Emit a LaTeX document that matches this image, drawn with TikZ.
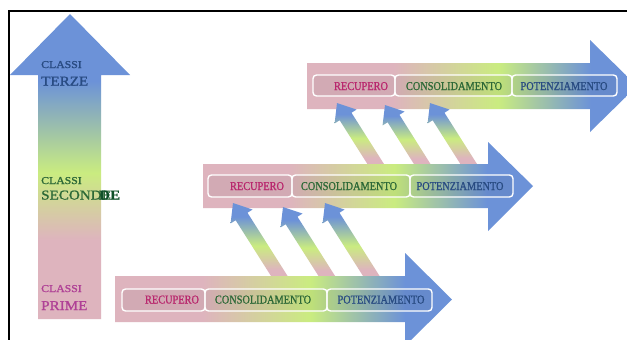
\documentclass[tikz,border=0pt]{standalone}
\usepackage{fontspec}
\setmainfont{Liberation Serif}
\newfontfamily\widefont[FakeStretch=1.12,FakeBold=1.2]{Liberation Serif}
\newfontfamily\narrowfont[FakeStretch=0.86,FakeBold=0.9]{Liberation Serif}
\usetikzlibrary{calc}
\definecolor{apink}{RGB}{222,180,190}
\definecolor{agreen}{RGB}{202,236,128}
\definecolor{ablue}{RGB}{108,146,216}
\definecolor{tblue}{RGB}{40,75,130}
\definecolor{tgreen}{RGB}{45,105,55}
\definecolor{tdgreen}{RGB}{15,80,40}
\definecolor{tmag}{RGB}{175,65,150}
\definecolor{rmag}{RGB}{185,40,110}
\pgfdeclarehorizontalshading{hgrad}{100bp}{color(0bp)=(apink); color(38bp)=(apink); color(54bp)=(agreen); color(68bp)=(ablue); color(100bp)=(ablue)}
\pgfdeclareverticalshading{vgrad}{100bp}{color(0bp)=(apink); color(38bp)=(apink); color(49bp)=(agreen); color(64bp)=(ablue); color(100bp)=(ablue)}
\pgfdeclareverticalshading{dgrad}{100bp}{color(0bp)=(apink); color(36bp)=(apink); color(50bp)=(agreen); color(67bp)=(ablue); color(100bp)=(ablue)}
\tikzset{
  harrow/.style={shading=hgrad},
  varrow/.style={shading=vgrad},
  darrow/.style={shading=dgrad},
  seg/.style={draw=white, line width=1.4pt, rounded corners=3.5pt, fill=black, fill opacity=0.05},
  seglabel/.style={font=\narrowfont\fontsize{12}{12}\selectfont, anchor=base, inner sep=0pt},
  sidesmall/.style={font=\widefont\fontsize{10.5}{10.5}\selectfont, anchor=base west, inner sep=0pt},
  sidebig/.style={font=\widefont\fontsize{13.5}{13.5}\selectfont, anchor=base west, inner sep=0pt},
  frameline/.style={line width=1.3pt, black}
}
% diagonal block arrow from tail #1 to tip #2
\newcommand\diagarr[2]{%
  \coordinate (hb) at ($(#2)!16pt!(#1)$);
  \shade[darrow] ($(#1)!7pt!90:(#2)$) -- ($(hb)!7pt!90:(#2)$) -- ($(hb)!13pt!90:(#2)$) -- (#2)
    -- ($(hb)!13pt!-90:(#2)$) -- ($(hb)!7pt!-90:(#2)$) -- ($(#1)!7pt!-90:(#2)$) -- cycle;
}
\begin{document}
\begin{tikzpicture}[x=1pt,y=-1pt]
\useasboundingbox (0,0) rectangle (627,340);
\clip (0,0) rectangle (627,340);
\fill[white] (0,0) rectangle (627,340);

% vertical arrow
\shade[varrow] (38,319) -- (38,75) -- (10,75) -- (70,14) -- (130,75) -- (101,75) -- (101,319) -- cycle;
\node[sidesmall, text=tblue] (c3) at (41,68) {CLASSI};
\node[sidebig, text=tblue] (t3) at (41,85.5) {TERZE};
\node[sidesmall, text=tgreen] (c2) at (41,184) {CLASSI};
\node[sidebig, text=tgreen] (t2) at (41,199.5) {\makebox[0pt][l]{SECONDE}\hspace{58pt}\textcolor{tdgreen}{\bfseries DE}};
\node[sidesmall, text=tmag] (c1) at (41,292) {CLASSI};
\node[sidebig, text=tmag] (t1) at (41,310) {PRIME};

% top horizontal arrow
\shade[harrow] (307,63) -- (590,63) -- (590,40) -- (637,86) -- (590,132) -- (590,109) -- (307,109) -- cycle;
\path[seg] (313,75) rectangle (395,96);
\path[seg] (395,75) rectangle (512,96);
\path[seg] (512,75) rectangle (617,96);
\node[seglabel, text=rmag] (r3) at (361,90) {RECUPERO};
\node[seglabel, text=tgreen] (s3) at (454,90) {CONSOLIDAMENTO};
\node[seglabel, text=tblue] (p3) at (564,90) {POTENZIAMENTO};

% upper diagonal arrows
\coordinate (ua1) at (379.5,170); \coordinate (ub1) at (337,103);
\coordinate (ua2) at (426,170);   \coordinate (ub2) at (385,105);
\coordinate (ua3) at (472.5,170); \coordinate (ub3) at (430,103);
\diagarr{ua1}{ub1}
\diagarr{ua2}{ub2}
\diagarr{ua3}{ub3}

% middle horizontal arrow
\shade[harrow] (203,164) -- (488,164) -- (488,142) -- (533,186) -- (488,231) -- (488,208) -- (203,208) -- cycle;
\path[seg] (208,175) rectangle (292,197);
\path[seg] (292,175) rectangle (410,197);
\path[seg] (410,175) rectangle (513,197);
\node[seglabel, text=rmag] (r2) at (257,190) {RECUPERO};
\node[seglabel, text=tgreen] (s2) at (349,190) {CONSOLIDAMENTO};
\node[seglabel, text=tblue] (p2) at (460,190) {POTENZIAMENTO};

% lower diagonal arrows
\coordinate (la1) at (285,285);   \coordinate (lb1) at (233,203);
\coordinate (la2) at (332.5,285); \coordinate (lb2) at (283,207);
\coordinate (la3) at (377,285);   \coordinate (lb3) at (325,203);
\diagarr{la1}{lb1}
\diagarr{la2}{lb2}
\diagarr{la3}{lb3}

% bottom horizontal arrow
\shade[harrow] (115,276) -- (405,276) -- (405,253) -- (452,299.5) -- (405,346) -- (405,322) -- (115,322) -- cycle;
\path[seg] (122,289) rectangle (205,311);
\path[seg] (205,289) rectangle (327,311);
\path[seg] (327,289) rectangle (432,311);
\node[seglabel, text=rmag] (r1) at (172,303.5) {RECUPERO};
\node[seglabel, text=tgreen] (s1) at (263,303.5) {CONSOLIDAMENTO};
\node[seglabel, text=tblue] (p1) at (381,303.5) {POTENZIAMENTO};

% frame
\draw[frameline] (9,341) -- (9,11) -- (628,11);
\end{tikzpicture}
\end{document}
